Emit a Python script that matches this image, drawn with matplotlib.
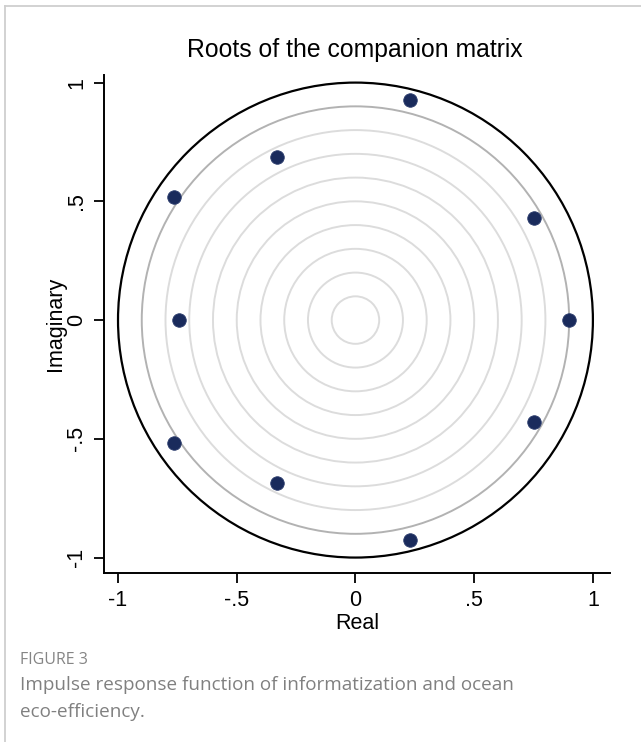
import numpy as np
import matplotlib.pyplot as plt
from matplotlib.patches import Circle
from matplotlib.lines import Line2D

# eigenvalues of the companion matrix (real, imaginary parts)
real = [0.229, 0.229, -0.330, -0.330, -0.765, -0.765, 0.754, 0.754, -0.742, 0.898]
imag = [0.926, -0.926, 0.688, -0.688, 0.517, -0.517, 0.428, -0.428, 0.0, 0.0]

# reference circles
grid_radii = [0.1, 0.2, 0.3, 0.4, 0.5, 0.6, 0.7, 0.8]
outer_radius = 0.9

ticks = [-1, -0.5, 0, 0.5, 1]
tick_labels = ["-1", "-.5", "0", ".5", "1"]

W, H = 641, 742
fig = plt.figure(figsize=(W / 100, H / 100), dpi=100)

ax = fig.add_axes([104 / W, 1 - 573 / H, (610 - 104) / W, (573 - 75) / H])
ax.set_xlim(-1.059, 1.072)
ax.set_ylim(-1.065, 1.032)
ax.set_aspect("auto")

for r in grid_radii:
    ax.add_patch(Circle((0, 0), r, fill=False, ec="#dcdcdc", lw=1.4))
ax.add_patch(Circle((0, 0), outer_radius, fill=False, ec="#b2b2b2", lw=1.4))
ax.add_patch(Circle((0, 0), 1.0, fill=False, ec="black", lw=1.6))

ax.scatter(real, imag, s=95, color="#1a2b5c", edgecolors="#2a3b6c", lw=0.6, zorder=5)

for s in ["top", "right"]:
    ax.spines[s].set_visible(False)
for s in ["left", "bottom"]:
    ax.spines[s].set_linewidth(1.4)

font = ["Liberation Sans", "DejaVu Sans"]
ax.set_xticks(ticks)
ax.set_xticklabels(tick_labels, fontsize=15.5, family=font)
ax.set_yticks(ticks)
ax.set_yticklabels(tick_labels, fontsize=15.5, family=font, rotation=90, va="center")
ax.tick_params(length=7, width=1.3, pad=5)
ax.set_xlabel("Real", fontsize=15.5, family=font, labelpad=2)
ax.set_ylabel("Imaginary", fontsize=15.5, family=font, labelpad=0)
fig.text(355 / W, 1 - 50 / H, "Roots of the companion matrix", ha="center", va="center",
         fontsize=17.8, family=font)

# caption below the chart
cap = ["Open Sans", "DejaVu Sans"]
fig.text(20 / W, 1 - 660 / H, "FIGURE 3", fontsize=11.5, color="#858585", family=cap,
         va="center")
fig.text(20 / W, 1 - 685 / H, "Impulse response function of informatization and ocean",
         fontsize=13.6, color="#808080", family=cap, va="center")
fig.text(20 / W, 1 - 712 / H, "eco-efficiency.", fontsize=13.6, color="#808080",
         family=cap, va="center")

# panel frame
fig.add_artist(Line2D([4.5 / W, 4.5 / W], [0, 1 - 6 / H], transform=fig.transFigure,
                      color="#cfcfcf", lw=1.3))
fig.add_artist(Line2D([4.5 / W, 1], [1 - 6 / H, 1 - 6 / H], transform=fig.transFigure,
                      color="#cfcfcf", lw=1.3))

fig.savefig("out.png", dpi=100)
